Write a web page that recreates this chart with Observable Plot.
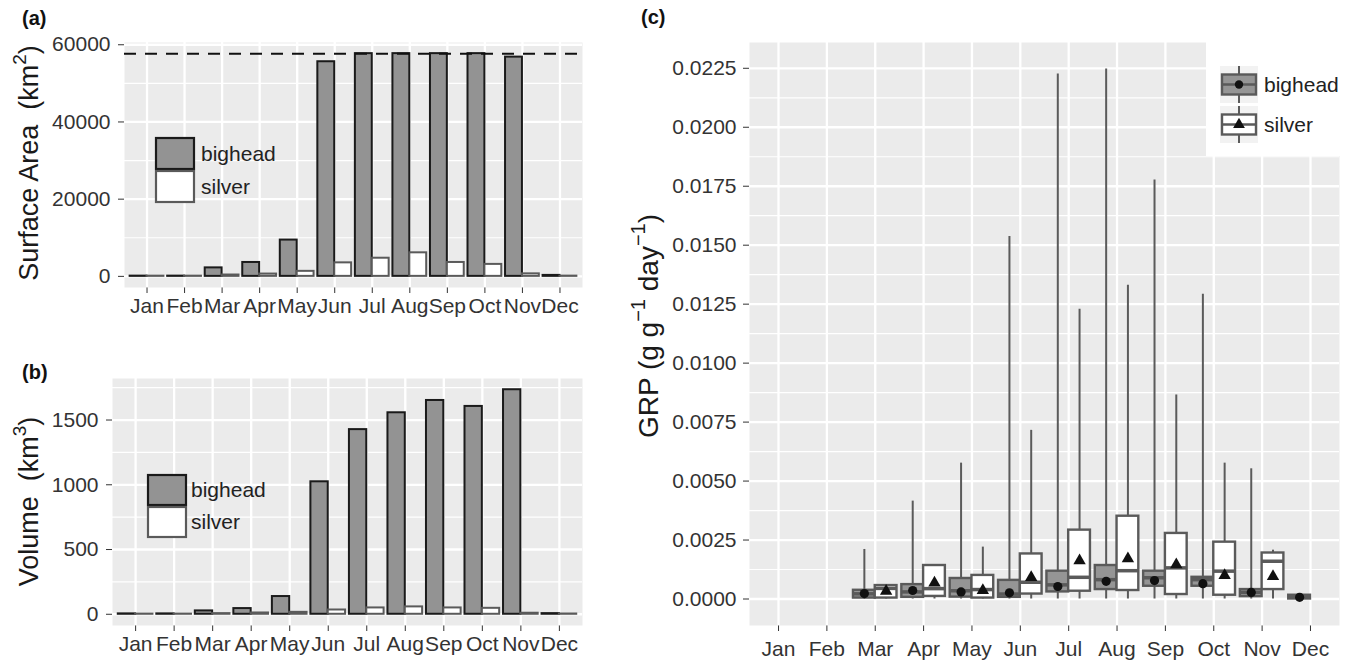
<!DOCTYPE html>
<html><head><meta charset="utf-8">
<script src="https://cdn.jsdelivr.net/npm/d3@7"></script>
<script src="https://cdn.jsdelivr.net/npm/@observablehq/plot@0.6"></script>
<style>
html,body{margin:0;padding:0;background:#fff;}
#wrap{position:relative;width:1352px;height:662px;overflow:hidden;font-family:"Liberation Sans",Arial,Helvetica,sans-serif;}
.panel{position:absolute;}
.panel svg{overflow:visible;}
</style></head><body><div id="wrap"></div>
<script>
// ---------- data ----------
const months = ["Jan","Feb","Mar","Apr","May","Jun","Jul","Aug","Sep","Oct","Nov","Dec"];
const species = ["bighead","silver"];

// (a) surface area, km^2
const areaBighead = [60, 60, 2200, 3600, 9400, 55600, 57700, 57700, 57700, 57700, 56800, 250];
const areaSilver  = [50, 50, 350, 600, 1300, 3500, 4700, 6100, 3600, 3100, 650, 60];
const areaCap = 57700;
const areaTicks = [0, 20000, 40000, 60000];

// (b) volume, km^3
const volBighead = [3, 3, 26, 44, 137, 1023, 1426, 1556, 1651, 1605, 1734, 5];
const volSilver  = [1, 1, 5, 10, 15, 33, 49, 57, 49, 46, 8, 2];
const volTicks = [0, 500, 1000, 1500];

// (c) GRP boxplots, g g-1 day-1
const grpTicks = [0, 0.0025, 0.005, 0.0075, 0.01, 0.0125, 0.015, 0.0175, 0.02, 0.0225];
const bhLo   = [null, null, 0, 0, 0, 0, 0, 0, 0, 0, 0, 0];
const bhQ1   = [null, null, 0.00004, 0.00007, 0.00008, 0.00007, 0.0003, 0.0004, 0.00054, 0.00054, 0.0001, 0.0];
const bhMed  = [null, null, 0.00022, 0.0003, 0.00035, 0.00021, 0.0006, 0.00082, 0.0009, 0.00082, 0.00028, 0.00008];
const bhQ3   = [null, null, 0.00037, 0.00061, 0.00087, 0.00079, 0.00118, 0.00142, 0.00118, 0.00092, 0.0004, 0.00016];
const bhHi   = [null, null, 0.0021, 0.00415, 0.00576, 0.01537, 0.02226, 0.02247, 0.01776, 0.01292, 0.00552, 0.00016];
const bhMean = [null, null, 0.00023, 0.00036, 0.0003, 0.00026, 0.00053, 0.00075, 0.00078, 0.00065, 0.00028, 0.00007];

const svLo   = [null, null, 0, 0, 0, 0, 0, 0, 0, 0, 0, null];
const svQ1   = [null, null, 0.00004, 0.00011, 0.00004, 0.00021, 0.00033, 0.00036, 0.00019, 0.00016, 0.0004, null];
const svMed  = [null, null, 0.00045, 0.00044, 0.0004, 0.00071, 0.00092, 0.0012, 0.00132, 0.00118, 0.0016, null];
const svQ3   = [null, null, 0.00057, 0.00142, 0.001, 0.00191, 0.00292, 0.00351, 0.00278, 0.00241, 0.00195, null];
const svHi   = [null, null, 0.00061, 0.00146, 0.0022, 0.00715, 0.01228, 0.0133, 0.00865, 0.00576, 0.00207, null];
const svMean = [null, null, 0.00033, 0.00068, 0.00036, 0.00092, 0.00163, 0.00171, 0.00146, 0.001, 0.00096, null];

// ---------- styles ----------
const FONT = '"Liberation Sans", Arial, Helvetica, sans-serif';
const TICK_FS = "21px";
const PANEL = "#ebebeb";
const BH_FILL = "#939393", BH_STROKE = "#1a1a1a";
const SV_FILL = "#ffffff", SV_STROKE = "#5a5a5a";
const BOX_STROKE = "#5a5a5a", BOX_BH_FILL = "#959595";
const wrap = document.getElementById("wrap");

function minorOf(ticks, top) {
  const step = ticks[1] - ticks[0];
  return ticks.map(t => t + step / 2).filter(t => t < top);
}
function place(node, left, top) {
  const div = document.createElement("div");
  div.className = "panel";
  div.style.left = left + "px"; div.style.top = top + "px";
  div.appendChild(node); wrap.appendChild(div);
}
function addTag(svg, x, y, label) {
  d3.select(svg).append("text").attr("x", x).attr("y", y)
    .attr("text-anchor", "start")
    .attr("font-family", FONT).attr("font-weight", "bold").attr("font-size", 20)
    .attr("fill", "#111").text(label);
}
function addYTitle(svg, x, y, fs, parts) {
  const t = d3.select(svg).append("text")
    .attr("transform", `translate(${x},${y}) rotate(-90)`)
    .attr("text-anchor", "middle").attr("font-family", FONT)
    .attr("font-size", fs).attr("fill", "#1a1a1a");
  const sh = Math.round(fs * 0.46);
  parts.forEach(p => {
    const s = t.append("tspan").text(p.t);
    if (p.sup) s.attr("font-size", Math.round(fs * 0.7)).attr("dy", -sh);
    if (p.down) s.attr("dy", sh);
    if (p.dx) s.attr("dx", p.dx);
  });
}
function addBarLegend(svg, x, y, w, h, tx) {
  const g = d3.select(svg).append("g");
  g.append("rect").attr("x", x).attr("y", y).attr("width", w).attr("height", h)
    .attr("fill", BH_FILL).attr("stroke", BH_STROKE).attr("stroke-width", 2.2);
  g.append("rect").attr("x", x).attr("y", y + h + 2).attr("width", w).attr("height", h)
    .attr("fill", SV_FILL).attr("stroke", SV_STROKE).attr("stroke-width", 2.2);
  species.forEach((s, i) => g.append("text").attr("x", tx).attr("y", y + h * 0.5 + 7 + i * (h + 2))
    .attr("text-anchor", "start")
    .attr("font-family", FONT).attr("font-size", 21).attr("fill", "#222").text(s));
}

// ---------- bar panels ----------
function barPanel({bh, sv, ticks, cap, w, h, ml, mt, mr, mb}) {
  const rows = months.flatMap((m, i) => [
    {m: i + 1, v: bh[i], sp: "bighead"},
    {m: i + 1, v: sv[i], sp: "silver"}
  ]);
  const max = cap != null ? Math.max(cap, d3.max(rows, d => d.v)) : d3.max(rows, d => d.v);
  const dom = [-0.05 * max, 1.05 * max];
  const monthIdx = d3.range(1, 13);
  const marks = [
    Plot.frame({fill: PANEL, stroke: null}),
    Plot.ruleY(minorOf(ticks, dom[1]), {stroke: "#fff", strokeWidth: 1.2}),
    Plot.ruleY(ticks, {stroke: "#fff", strokeWidth: 2.3}),
    Plot.ruleX(monthIdx, {stroke: "#fff", strokeWidth: 2.3}),
    Plot.rect(rows.filter(d => d.sp === "bighead"), {x1: d => d.m - 0.45, x2: d => d.m, y1: 0, y2: "v", fill: BH_FILL, stroke: BH_STROKE, strokeWidth: 2}),
    Plot.rect(rows.filter(d => d.sp === "silver"), {x1: d => d.m, x2: d => d.m + 0.45, y1: 0, y2: "v", fill: SV_FILL, stroke: SV_STROKE, strokeWidth: 2}),
  ];
  if (cap != null) marks.push(Plot.ruleY([cap], {stroke: "#111", strokeWidth: 2, strokeDasharray: "12,9"}));
  return Plot.plot({
    width: w, height: h, marginLeft: ml, marginTop: mt, marginRight: mr, marginBottom: mb,
    style: {background: "transparent", fontFamily: FONT, fontSize: TICK_FS, color: "#333", overflow: "visible"},
    x: {domain: [0.4, 12.6], ticks: monthIdx, tickFormat: i => months[i - 1], tickSize: 6, tickPadding: 5, label: null},
    y: {domain: dom, ticks: ticks, tickFormat: d3.format("d"), tickSize: 6, tickPadding: 8, label: null},
    marks
  });
}

const svgA = barPanel({bh: areaBighead, sv: areaSilver, ticks: areaTicks, cap: areaCap, w: 600, h: 330, ml: 124, mt: 42, mr: 18, mb: 43});
addTag(svgA, 22, 25, "(a)");
addYTitle(svgA, 38, 163, 27, [{t: "Surface Area"}, {t: "(km", dx: 15}, {t: "2", sup: true}, {t: ")", down: true}]);
addBarLegend(svgA, 156, 138, 38, 31, 201);
place(svgA, 0, 0);

const svgB = barPanel({bh: volBighead, sv: volSilver, ticks: volTicks, cap: null, w: 600, h: 332, ml: 112, mt: 48, mr: 18, mb: 37});
addTag(svgB, 22, 49, "(b)");
addYTitle(svgB, 38, 171.5, 27, [{t: "Volume"}, {t: "(km", dx: 15}, {t: "3", sup: true}, {t: ")", down: true}]);
addBarLegend(svgB, 148, 145, 38, 30, 191);
place(svgB, 0, 330);

// ---------- (c) boxplots ----------
function boxRows(sp, lo, q1, med, q3, hi, mean, off) {
  const out = [];
  months.forEach((m, i) => {
    if (q1[i] == null) return;
    const c = i + 1 + off;
    out.push({sp, c, x1: c - 0.225, x2: c + 0.225, lo: lo[i], q1: q1[i], med: med[i], q3: q3[i], hi: hi[i], mean: mean[i]});
  });
  return out;
}
const bhRows = boxRows("bighead", bhLo, bhQ1, bhMed, bhQ3, bhHi, bhMean, -0.225);
const svRows = boxRows("silver", svLo, svQ1, svMed, svQ3, svHi, svMean, 0.225);
const gmax = d3.max([...bhRows, ...svRows], d => d.hi);
const gdom = [-0.05 * gmax, 1.05 * gmax];
const monthIdx = d3.range(1, 13);

const svgC = Plot.plot({
  width: 752, height: 662, marginLeft: 149, marginTop: 42, marginRight: 13, marginBottom: 37,
  style: {background: "transparent", fontFamily: FONT, fontSize: TICK_FS, color: "#333", overflow: "visible"},
  x: {domain: [0.4, 12.6], ticks: monthIdx, tickFormat: i => months[i - 1], tickSize: 6, tickPadding: 10, label: null},
  y: {domain: gdom, ticks: grpTicks, tickFormat: d3.format(".4f"), tickSize: 6, tickPadding: 7, label: null},
  marks: [
    Plot.frame({fill: PANEL, stroke: null}),
    Plot.ruleY(minorOf(grpTicks, gdom[1]), {stroke: "#fff", strokeWidth: 1.2}),
    Plot.ruleY(grpTicks, {stroke: "#fff", strokeWidth: 2.3}),
    Plot.ruleX(monthIdx, {stroke: "#fff", strokeWidth: 2.3}),
    Plot.ruleX(bhRows, {x: "c", y1: "lo", y2: "hi", stroke: BOX_STROKE, strokeWidth: 2}),
    Plot.ruleX(svRows, {x: "c", y1: "lo", y2: "hi", stroke: BOX_STROKE, strokeWidth: 2}),
    Plot.rect(bhRows, {x1: "x1", x2: "x2", y1: "q1", y2: "q3", fill: BOX_BH_FILL, stroke: BOX_STROKE, strokeWidth: 2.4}),
    Plot.rect(svRows, {x1: "x1", x2: "x2", y1: "q1", y2: "q3", fill: "#fff", stroke: BOX_STROKE, strokeWidth: 2.4}),
    Plot.ruleY(bhRows, {y: "med", x1: "x1", x2: "x2", stroke: BOX_STROKE, strokeWidth: 3.5}),
    Plot.ruleY(svRows, {y: "med", x1: "x1", x2: "x2", stroke: BOX_STROKE, strokeWidth: 3.5}),
    Plot.dot(bhRows, {x: "c", y: "mean", r: 4.6, fill: "#111", stroke: null}),
    Plot.dot(svRows, {x: "c", y: "mean", r: 4.6, symbol: "triangle", fill: "#111", stroke: null})
  ]
});
addTag(svgC, 41, 24, "(c)");
addYTitle(svgC, 58, 326, 28, [{t: "GRP (g g"}, {t: "\u22121", sup: true}, {t: " day", down: true}, {t: "\u22121", sup: true}, {t: ")", down: true}]);
// legend (c)
(function () {
  const g = d3.select(svgC).append("g");
  g.append("rect").attr("x", 606).attr("y", 42).attr("width", 146).attr("height", 114).attr("fill", "#fff");
  [0, 1].forEach(i => {
    const ky = 66 + i * 40, kx = 620, kw = 38, kh = 37;
    const cx = kx + kw / 2, cy = ky + kh / 2;
    g.append("rect").attr("x", kx).attr("y", ky).attr("width", kw).attr("height", kh).attr("fill", "#f2f2f2");
    g.append("line").attr("x1", cx).attr("x2", cx).attr("y1", ky).attr("y2", ky + kh).attr("stroke", BOX_STROKE).attr("stroke-width", 2);
    g.append("rect").attr("x", kx + 2).attr("y", cy - 10).attr("width", kw - 4).attr("height", 20)
      .attr("fill", i === 0 ? BOX_BH_FILL : "#fff").attr("stroke", BOX_STROKE).attr("stroke-width", 2.4);
    g.append("line").attr("x1", kx + 2).attr("x2", kx + kw - 2).attr("y1", cy).attr("y2", cy).attr("stroke", BOX_STROKE).attr("stroke-width", 2.5);
    g.append("path").attr("transform", `translate(${cx},${cy})`)
      .attr("d", d3.symbol(i === 0 ? d3.symbolCircle : d3.symbolTriangle, i === 0 ? 55 : 60)())
      .attr("fill", "#111");
    g.append("text").attr("x", 664).attr("y", cy + 7).attr("text-anchor", "start")
      .attr("font-family", FONT).attr("font-size", 21)
      .attr("fill", "#222").text(species[i]);
  });
})();
place(svgC, 600, 0);
</script>
</body></html>
